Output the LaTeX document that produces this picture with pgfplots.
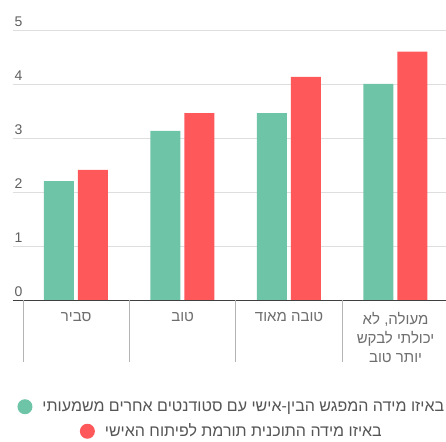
\documentclass[border=0pt]{standalone}
\usepackage{fontspec}
\setmainfont{Liberation Sans}
\newfontfamily\hebfont[Script=Hebrew]{Liberation Sans}
\usepackage{pgfplots}
\pgfplotsset{compat=1.18}
\TeXXeTstate=1
\definecolor{grn}{RGB}{110,196,166}
\definecolor{rd}{RGB}{255,88,91}
\definecolor{gridc}{RGB}{222,222,222}
\definecolor{sepc}{RGB}{180,180,180}
\definecolor{tickc}{RGB}{95,95,95}
\definecolor{labc}{RGB}{110,110,110}
\definecolor{legc}{RGB}{85,85,85}
\begin{document}
\begin{tikzpicture}
\useasboundingbox (0,0) rectangle (446pt,441pt);
\begin{axis}[
  at={(13pt,141pt)}, anchor=south west,
  scale only axis, width=433pt, height=270pt,
  xmin=-0.594, xmax=3.474, ymin=0, ymax=5,
  axis line style={draw=none},
  ytick={0,1,2,3,4,5},
  ymajorgrids, grid style={gridc, line width=0.8pt},
  major tick length=0pt, tick style={draw=none},
  /pgf/number format/assume math mode=true,
  yticklabel style={anchor=south west, font=\fontsize{14}{16}\selectfont, text=tickc, xshift=-2pt},
  xtick={0,1,2,3},
  xticklabels={{\hebfont\beginR סביר\endR}, {\hebfont\beginR טוב\endR}, {\hebfont\beginR טובה מאוד\endR}, {\hebfont\beginR מעולה, לא\endR\\\hebfont\beginR יכולתי לבקש\endR\\\hebfont\beginR יותר טוב\endR}},
  xticklabel style={anchor=north, align=center, yshift=-9pt, font=\fontsize{15}{19}\selectfont, text=labc},
  legend image code/.code={},
  legend cell align=center,
  legend style={at={(0.503,-0.352)}, anchor=north, draw=none, fill=none,
    font=\fontsize{16}{18}\selectfont, text=legc, row sep=6pt},
  clip=false,
]
\addplot[ybar, bar width=0.282, bar shift=-0.162, fill=grn, draw=none]
  coordinates {(0,2.2) (1,3.13) (2,3.46) (3,4.0)};
\addlegendentry{\tikz[baseline=-0.6ex]\fill[grn] (0,0) circle (7.5pt);\hspace{10pt}{\hebfont\beginR באיזו מידה המפגש הבין-אישי עם סטודנטים אחרים משמעותי\endR}}
\addplot[ybar, bar width=0.282, bar shift=0.157, fill=rd, draw=none]
  coordinates {(0,2.41) (1,3.46) (2,4.13) (3,4.6)};
\addlegendentry{\tikz[baseline=-0.6ex]\fill[rd] (0,0) circle (7.5pt);\hspace{10pt}{\hebfont\beginR באיזו מידה התוכנית תורמת לפיתוח האישי\endR}}
\draw[black!75, line width=0.8pt] (rel axis cs:0,0) -- (rel axis cs:1,0);
\pgfplotsinvokeforeach{-0.5,0.5,1.5,2.5}{\draw[sepc, line width=1pt] (axis cs:#1,0) -- ++(0pt,-62pt);}
\end{axis}
\end{tikzpicture}
\end{document}
